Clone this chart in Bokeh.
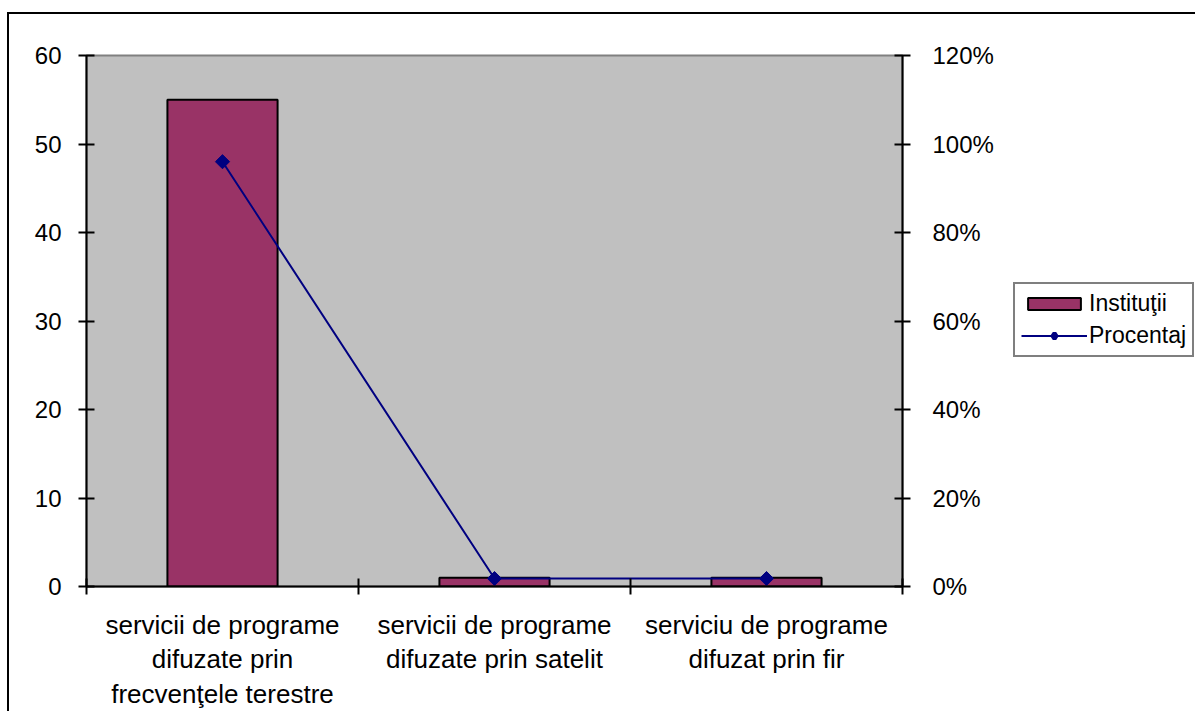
import numpy as np
from bokeh.plotting import figure
from bokeh.layouts import row
from bokeh.models import (Range1d, LinearAxis, FixedTicker, NumeralTickFormatter,
                          Legend, LegendItem, ColumnDataSource)
from bokeh.embed import file_html
from bokeh.resources import INLINE

categories = [
    "servicii de programe\ndifuzate prin\nfrecvenţele terestre",
    "servicii de programe\ndifuzate prin satelit",
    "serviciu de programe\ndifuzat prin fir",
]
institutii = [55, 1, 1]
procentaj = [0.96, 0.018, 0.018]
left_ticks = [0, 10, 20, 30, 40, 50, 60]
right_ticks = [0.0, 0.2, 0.4, 0.6, 0.8, 1.0, 1.2]
series_names = ["Instituţii", "Procentaj"]

FONT = "Liberation Sans"
BAR_COLOR = "#993366"
LINE_COLOR = "#000080"

x = np.arange(len(categories)) + 0.5
src = ColumnDataSource(dict(x=x, inst=institutii, pct=procentaj))

p = figure(width=1001, height=697, output_backend="svg", toolbar_location=None,
           x_range=Range1d(0, len(categories)), y_range=Range1d(0, 60),
           min_border_left=77, min_border_top=41, min_border_right=108,
           min_border_bottom=122, x_axis_location=None, y_axis_location=None)
p.extra_y_ranges = {"pct": Range1d(0, 1.2)}
p.background_fill_color = "#C0C0C0"
p.border_fill_color = "white"
p.outline_line_color = "#808080"
p.outline_line_width = 2
p.grid.visible = False

bars = p.vbar(x="x", top="inst", width=0.405, source=src, fill_color=BAR_COLOR,
              line_color="black", line_width=2)
line = p.line(x="x", y="pct", source=src, y_range_name="pct", line_color=LINE_COLOR,
              line_width=2)
pts = p.scatter(x="x", y="pct", source=src, y_range_name="pct", marker="square",
                angle=np.pi / 4, size=10, fill_color=LINE_COLOR, line_color=LINE_COLOR)

# bottom axis: labels at category centres, ticks at category boundaries
xa = LinearAxis(ticker=FixedTicker(ticks=list(x), minor_ticks=list(range(len(categories) + 1))))
xa.major_label_overrides = {float(v): c for v, c in zip(x, categories)}
xa.major_tick_in = 0
xa.major_tick_out = 0
xa.minor_tick_in = 8
xa.minor_tick_out = 8
xa.minor_tick_line_color = "black"
xa.minor_tick_line_width = 2
xa.axis_line_color = "black"
xa.axis_line_width = 2
xa.major_label_standoff = 15
xa.major_label_text_font = FONT
xa.major_label_text_font_size = "26px"
xa.major_label_text_color = "black"
xa.major_label_text_line_height = 1.15
p.add_layout(xa, "below")

# left axis
ya = LinearAxis(ticker=FixedTicker(ticks=left_ticks, minor_ticks=[]))
ya.major_tick_in = 8
ya.major_tick_out = 8
ya.major_tick_line_width = 2
ya.axis_line_width = 2
ya.major_label_standoff = 17
ya.major_label_text_font = FONT
ya.major_label_text_font_size = "24px"
ya.major_label_text_color = "black"
p.add_layout(ya, "left")

# right axis
ra = LinearAxis(y_range_name="pct", ticker=FixedTicker(ticks=right_ticks, minor_ticks=[]),
                formatter=NumeralTickFormatter(format="0%"))
ra.major_tick_in = 8
ra.major_tick_out = 8
ra.major_tick_line_width = 2
ra.axis_line_width = 2
ra.major_label_standoff = 22
ra.major_label_text_font = FONT
ra.major_label_text_font_size = "24px"
ra.major_label_text_color = "black"
p.add_layout(ra, "right")

# legend panel (separate canvas to the right of the chart); its renderers are
# hidden copies of the chart's series, used only to draw the legend swatches
lf = figure(width=185, height=697, output_backend="svg", toolbar_location=None,
            min_border=0, x_axis_location=None, y_axis_location=None,
            x_range=Range1d(0, len(categories)), y_range=Range1d(0, 60))
lf.outline_line_color = None
lf.background_fill_color = "white"
lf.border_fill_color = "white"
lf.grid.visible = False
lb = lf.vbar(x="x", top="inst", width=0.405, source=src, fill_color=BAR_COLOR,
             line_color="black", line_width=2, visible=False)
ll = lf.line(x="x", y="pct", source=src, line_color=LINE_COLOR, line_width=2,
             visible=False)
lm = lf.scatter(x="x", y="pct", source=src, marker="diamond", fill_color=LINE_COLOR,
                line_color=LINE_COLOR, line_width=4, visible=False)

legend = Legend(items=[LegendItem(label=series_names[0], renderers=[lb]),
                       LegendItem(label=series_names[1], renderers=[ll, lm])],
                location=(3, 229))
legend.border_line_color = "black"
legend.border_line_width = 2
legend.background_fill_color = "white"
legend.background_fill_alpha = 1
legend.inactive_fill_alpha = 0
legend.padding = 6
legend.margin = 0
legend.spacing = 5
legend.glyph_width = 66
legend.glyph_height = 15
legend.label_height = 24
legend.label_standoff = 2
legend.label_text_font = FONT
legend.label_text_font_size = "23px"
legend.label_text_color = "black"
lf.add_layout(legend, "center")

layout = row(p, lf)
layout.styles = {"border-left": "2px solid black", "border-top": "2px solid black",
                 "margin-top": "12px", "margin-left": "7px"}

open("out.html", "w").write(file_html(layout, INLINE))
